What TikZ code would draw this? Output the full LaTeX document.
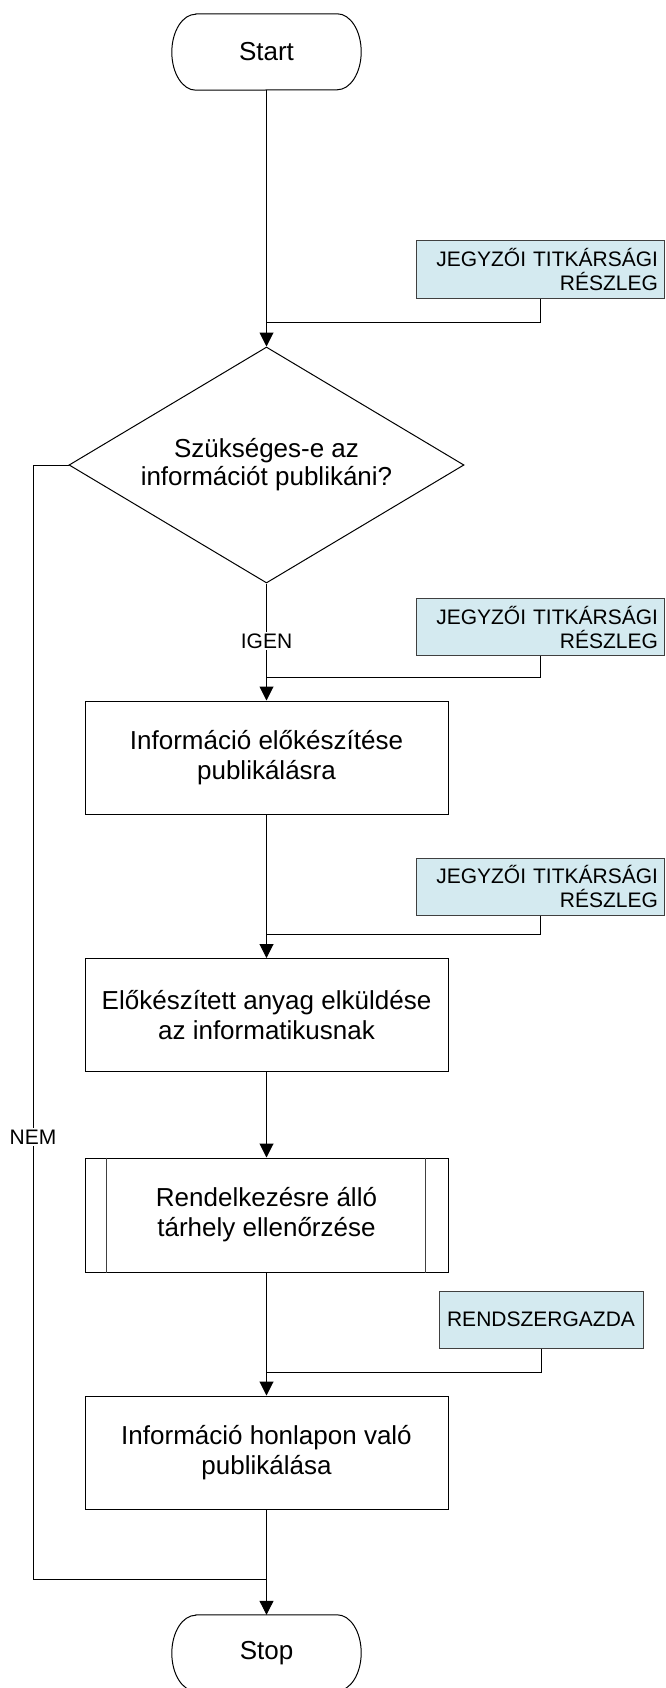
\documentclass[tikz,border=0pt]{standalone}
\usepackage{fontspec}
\setmainfont{Liberation Sans}
\usetikzlibrary{shapes.geometric,arrows.meta}
\definecolor{boxfill}{RGB}{212,234,240}
\definecolor{boxline}{RGB}{64,64,64}
\newcommand{\termoutline}[1]{%
  \draw[line width=1pt] ([xshift=24pt]#1.north west) -- ([xshift=-24pt]#1.north east)
    arc[start angle=90,end angle=-90,x radius=24pt,y radius=38pt]
    -- ([xshift=24pt]#1.south west)
    arc[start angle=270,end angle=90,x radius=24pt,y radius=38pt] -- cycle;}
\begin{document}
\begin{tikzpicture}[x=1pt,y=-1pt,
  mainfont/.style={font=\fontsize{26}{30}\selectfont},
  smallfont/.style={font=\fontsize{21}{24}\selectfont},
  terminal/.style={mainfont, minimum width=189pt, minimum height=76pt, inner sep=0pt},
  procbox/.style={draw=black, line width=1pt, mainfont, minimum width=363pt,
    minimum height=113pt, align=center, inner sep=0pt},
  decision/.style={draw=black, line width=1pt, diamond, shape aspect=1.674,
    minimum width=395pt, minimum height=236pt, inner sep=0pt, align=center,
    font=\fontsize{26}{28}\selectfont},
  rolebox/.style={draw=boxline, fill=boxfill, line width=1pt, smallfont,
    minimum height=57pt, inner ysep=0pt},
  rolewide/.style={rolebox, text width=236pt, inner xsep=6pt, align=right,
    minimum width=248pt},
  flowlabel/.style={smallfont, fill=white, inner sep=2pt},
  flow/.style={line width=1pt, -{Triangle[length=14pt,width=14pt]}},
  link/.style={line width=1pt}
]
\useasboundingbox (0,0) rectangle (665,1688);
\fill[white] (0,0) rectangle (665,1688);

% nodes
\node[terminal] (start) at (266.5,52) {Start};
\termoutline{start}
\node[rolewide] (r1) at (540,269.5) {JEGYZŐI TITKÁRSÁGI\\RÉSZLEG};
\node[decision] (dec) at (266.5,465) {Szükséges-e az\\információt publikáni?};
\node[rolewide] (r2) at (540,627) {JEGYZŐI TITKÁRSÁGI\\RÉSZLEG};
\node[procbox] (p1) at (266.5,757.5) {Információ előkészítése\\publikálásra};
\node[rolewide] (r3) at (540,886.5) {JEGYZŐI TITKÁRSÁGI\\RÉSZLEG};
\node[procbox] (p2) at (266.5,1015) {Előkészített anyag elküldése\\az informatikusnak};
\node[procbox, minimum height=114pt] (p3) at (266.5,1215) {Rendelkezésre álló\\tárhely ellenőrzése};
\draw[line width=1pt, black!75] ([xshift=22pt]p3.north west) -- ([xshift=22pt]p3.south west);
\draw[line width=1pt, black!75] ([xshift=-23pt]p3.north east) -- ([xshift=-23pt]p3.south east);
\node[rolebox, minimum width=204pt] (r4) at (541,1319.5) {RENDSZERGAZDA};
\node[procbox] (p4) at (266.5,1452.5) {Információ honlapon való\\publikálása};
\node[terminal] (stop) at (266.5,1653) {Stop};
\termoutline{stop}

% junction coordinates
\coordinate (j1) at (266.5,322);
\coordinate (j2) at (266.5,677);
\coordinate (j3) at (266.5,934);
\coordinate (j4) at (266.5,1372);
\coordinate (j5) at (266.5,1579);
\coordinate (n1) at (33,465);
\coordinate (n2) at (33,1579);

% connectors
\draw[flow] (start.south) -- (dec.north);
\draw[link] (r1.south) |- (j1);
\draw[flow] (dec.south) -- (p1.north);
\node[flowlabel] (igen) at (266.5,641) {IGEN};
\draw[link] (r2.south) |- (j2);
\draw[flow] (p1.south) -- (p2.north);
\draw[link] (r3.south) |- (j3);
\draw[flow] (p2.south) -- (p3.north);
\draw[flow] (p3.south) -- (p4.north);
\draw[link] (r4.south) |- (j4);
\draw[flow] (p4.south) -- (stop.north);
\draw[link] (dec.west) -- (n1) -- (n2) -- (j5);
\node[flowlabel] (nem) at (33,1137) {NEM};
\end{tikzpicture}
\end{document}
